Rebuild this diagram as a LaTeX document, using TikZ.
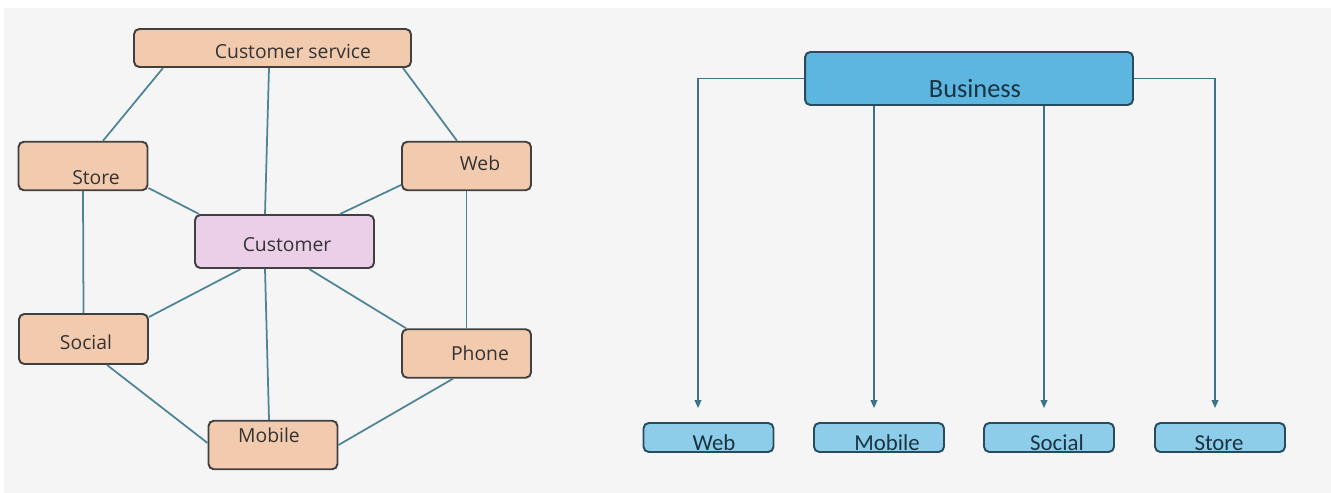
\documentclass[tikz,border=0pt]{standalone}
\usepackage{fontspec}
\setmainfont{Open Sans}
\newfontfamily\bizfont{Carlito}
\usetikzlibrary{arrows.meta}

\definecolor{peach}{HTML}{F2CAAE}
\definecolor{lilac}{HTML}{EBCFE8}
\definecolor{boxline}{HTML}{404040}
\definecolor{linkline}{HTML}{4E8495}
\definecolor{bizfill}{HTML}{5DB6E0}
\definecolor{subfill}{HTML}{8DCDEA}
\definecolor{bizline}{HTML}{284C5E}
\definecolor{biztext}{HTML}{1A3343}
\definecolor{arrline}{HTML}{3D7385}
\definecolor{bggray}{HTML}{F5F5F5}

\begin{document}
\begin{tikzpicture}[x=0.02cm,y=-0.02cm,
  chan node/.style={draw=boxline,line width=1.1pt,fill=peach,rounded corners=3pt,
    minimum width=2.58cm,minimum height=0.97cm,inner sep=0pt},
  cust node/.style={chan node,fill=lilac,minimum width=3.58cm,minimum height=1.06cm},
  lbl/.style={font=\fontsize{11}{13}\selectfont,text=black!80},
  biz node/.style={draw=bizline,line width=1.1pt,fill=bizfill,rounded corners=3pt,
    minimum width=6.56cm,minimum height=1.06cm,inner sep=0pt},
  sub node/.style={biz node,fill=subfill,minimum width=2.6cm,minimum height=0.58cm},
  blbl/.style={font=\bizfont\fontsize{13}{15}\selectfont,text=biztext},
  link/.style={draw=linkline,line width=1pt},
  arr/.style={draw=arrline,line width=0.85pt,-{Triangle[length=4.5pt,width=3.8pt]}}]

  % background
  \fill[white] (0,0) rectangle (1331,493);
  \fill[bggray] (4,8) rectangle (1331,493);

  % channel network
  \node[chan node,minimum width=5.54cm,minimum height=0.76cm,
    label={[lbl,xshift=0.41cm,yshift=-0.08cm]center:Customer service}] at (272.5,48) (cs) {};
  \node[chan node,label={[lbl,xshift=0.26cm,yshift=-0.24cm]center:Store}] at (83,166) (store) {};
  \node[chan node,label={[lbl,xshift=0.27cm,yshift=0.06cm]center:Web}] at (466.5,166) (web) {};
  \node[cust node,label={[lbl,xshift=0.05cm,yshift=-0.07cm]center:Customer}] at (284.5,241.5) (cust) {};
  \node[chan node,minimum height=1.0cm,label={[lbl,xshift=0.05cm,yshift=-0.06cm]center:Social}] at (83.5,339) (social) {};
  \node[chan node,label={[lbl,xshift=0.27cm,yshift=0.01cm]center:Phone}] at (466.5,353.5) (phone) {};
  \node[chan node,label={[lbl,xshift=-0.08cm,yshift=0.2cm]center:Mobile}] at (273,445) (mobile) {};

  \path[link]
  ([xshift=0.6cm]cs.south west) edge ([xshift=0.4cm]store.north)
  ([xshift=-0.07cm]cs.south) edge ([xshift=-0.39cm]cust.north)
  ([xshift=-0.18cm]cs.south east) edge ([xshift=-0.19cm]web.north)
  ([yshift=-0.44cm]store.east) edge ([xshift=0.1cm]cust.north west)
  ([yshift=-0.38cm]web.west) edge ([xshift=-0.7cm]cust.north east)
  (store.south) edge (social.north)
  (web.south) edge (phone.north)
  ([xshift=-0.87cm]cust.south) edge ([yshift=0.44cm]social.east)
  ([xshift=-0.39cm]cust.south) edge ([xshift=-0.08cm]mobile.north)
  ([xshift=0.49cm]cust.south) edge ([xshift=0.1cm]phone.north west)
  ([xshift=0.47cm]social.south) edge ([yshift=0.04cm]mobile.west)
  ([xshift=-0.27cm]phone.south) edge (mobile.east);

  % business tree
  \node[biz node,label={[blbl,font=\bizfont\fontsize{15}{17}\selectfont,xshift=0.12cm,yshift=-0.21cm]center:Business}] at (969,78.5) (biz) {};
  \node[sub node,label={[blbl,xshift=0.11cm,yshift=-0.11cm]center:Web}] at (708.5,437.5) (bweb) {};
  \node[sub node,label={[blbl,xshift=0.16cm,yshift=-0.11cm]center:Mobile}] at (879,437.5) (bmob) {};
  \node[sub node,label={[blbl,xshift=0.16cm,yshift=-0.11cm]center:Social}] at (1049,437.5) (bsoc) {};
  \node[sub node,label={[blbl,xshift=-0.02cm,yshift=-0.11cm]center:Store}] at (1220,437.5) (bsto) {};

  \coordinate (tweb) at ([xshift=-0.21cm,yshift=0.28cm]bweb.north);
  \coordinate (tmob) at ([xshift=-0.1cm,yshift=0.28cm]bmob.north);
  \coordinate (tsoc) at ([xshift=-0.1cm,yshift=0.28cm]bsoc.north);
  \coordinate (tsto) at ([xshift=-0.1cm,yshift=0.28cm]bsto.north);

  \draw[arr] (biz.west) -| (tweb);
  \draw[arr] (tmob |- biz.south) -- (tmob);
  \draw[arr] (tsoc |- biz.south) -- (tsoc);
  \draw[arr] (biz.east) -| (tsto);
\end{tikzpicture}
\end{document}
